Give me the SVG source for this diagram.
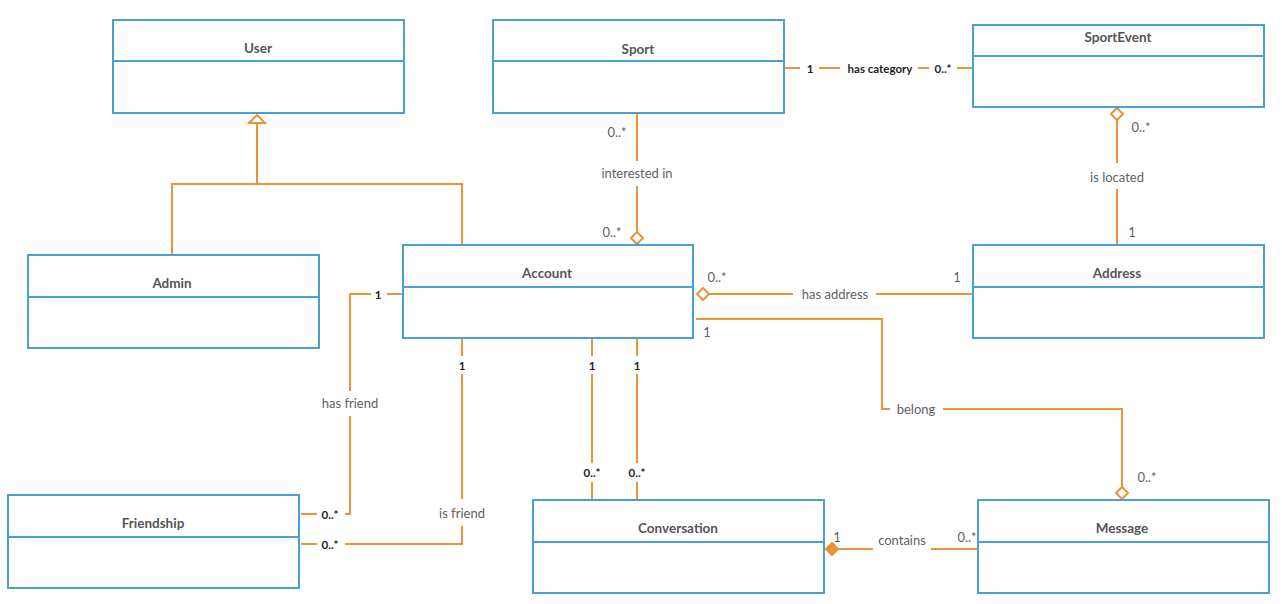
<svg xmlns="http://www.w3.org/2000/svg" width="1282" height="604" viewBox="0 0 1282 604">
<style>
.box{fill:#fff;stroke:#4aa0d5;stroke-width:2}
.div{stroke:#4aa0d5;stroke-width:2}
.title{font-family:Lato,"Liberation Sans",sans-serif;font-size:13.5px;font-weight:bold;fill:#555555;text-anchor:middle;dominant-baseline:central}
.ln{fill:none;stroke:#ec9339;stroke-width:2}
.hd{fill:#fff;stroke:#ec9339;stroke-width:2}
.fd{fill:#ec9339;stroke:#ec9339;stroke-width:2}
.g{font-family:Lato,"Liberation Sans",sans-serif;font-size:13px;fill:#5f5f5f;text-anchor:middle;dominant-baseline:central}
.b{font-family:Lato,"Liberation Sans",sans-serif;font-size:11.5px;font-weight:bold;fill:#1e1e1e;text-anchor:middle;dominant-baseline:central}
</style>
<rect width="1282" height="604" fill="#fff"/>
<g id="connectors">
<!-- generalization -->
<polyline class="ln" points="172,255 172,184 462,184 462,245"/>
<line class="ln" x1="257" y1="184" x2="257" y2="123"/>
<polygon class="hd" points="257,115 249,123 265,123"/>
<!-- has category -->
<line class="ln" x1="784" y1="68" x2="800" y2="68"/>
<line class="ln" x1="819" y1="68" x2="840" y2="68"/>
<line class="ln" x1="918" y1="68" x2="929" y2="68"/>
<line class="ln" x1="957" y1="68" x2="973" y2="68"/>
<text class="b" x="810" y="68">1</text>
<text class="b" x="880" y="68">has category</text>
<text class="b" x="943" y="68">0..*</text>
<!-- interested in -->
<line class="ln" x1="637" y1="113" x2="637" y2="161"/>
<line class="ln" x1="637" y1="186" x2="637" y2="232"/>
<polygon class="hd" points="637,232 643,238 637,244 631,238"/>
<text class="g" x="617" y="132">0..*</text>
<text class="g" x="637" y="173">interested in</text>
<text class="g" x="612" y="232">0..*</text>
<!-- is located -->
<polygon class="hd" points="1117,108 1123,114 1117,120 1111,114"/>
<line class="ln" x1="1117" y1="120" x2="1117" y2="163"/>
<line class="ln" x1="1117" y1="189" x2="1117" y2="245"/>
<text class="g" x="1141" y="127">0..*</text>
<text class="g" x="1117" y="177">is located</text>
<text class="g" x="1132" y="232">1</text>
<!-- has address -->
<polygon class="hd" points="697,294 703,288 709,294 703,300"/>
<line class="ln" x1="709" y1="294" x2="793" y2="294"/>
<line class="ln" x1="876" y1="294" x2="973" y2="294"/>
<text class="g" x="717" y="277">0..*</text>
<text class="g" x="835" y="294">has address</text>
<text class="g" x="957" y="277">1</text>
<!-- belong -->
<polyline class="ln" points="696,319 882,319 882,409 890,409"/>
<polyline class="ln" points="943,409 1122,409 1122,487"/>
<polygon class="hd" points="1122,487 1128,493 1122,499 1116,493"/>
<text class="g" x="707" y="332">1</text>
<text class="g" x="916" y="409">belong</text>
<text class="g" x="1147" y="477">0..*</text>
<!-- has friend -->
<line class="ln" x1="403" y1="294" x2="387" y2="294"/>
<polyline class="ln" points="371,294 350,294 350,391"/>
<polyline class="ln" points="350,416 350,514 345,514"/>
<line class="ln" x1="317" y1="514" x2="301" y2="514"/>
<text class="b" x="378" y="294">1</text>
<text class="g" x="350" y="403">has friend</text>
<text class="b" x="330" y="514">0..*</text>
<!-- is friend -->
<line class="ln" x1="462" y1="339" x2="462" y2="356"/>
<line class="ln" x1="462" y1="374" x2="462" y2="499"/>
<polyline class="ln" points="462,526 462,544 345,544"/>
<line class="ln" x1="317" y1="544" x2="301" y2="544"/>
<text class="b" x="462" y="365">1</text>
<text class="g" x="462" y="513">is friend</text>
<text class="b" x="330" y="544">0..*</text>
<!-- account - conversation -->
<line class="ln" x1="592" y1="339" x2="592" y2="356"/>
<line class="ln" x1="592" y1="374" x2="592" y2="463"/>
<line class="ln" x1="592" y1="482" x2="592" y2="500"/>
<line class="ln" x1="637" y1="339" x2="637" y2="356"/>
<line class="ln" x1="637" y1="374" x2="637" y2="463"/>
<line class="ln" x1="637" y1="482" x2="637" y2="500"/>
<text class="b" x="592" y="365">1</text>
<text class="b" x="637" y="365">1</text>
<text class="b" x="592" y="472">0..*</text>
<text class="b" x="637" y="472">0..*</text>
<!-- contains -->
<polygon class="fd" points="826,549 832,543 838,549 832,555"/>
<line class="ln" x1="838" y1="549" x2="873" y2="549"/>
<line class="ln" x1="931" y1="549" x2="978" y2="549"/>
<text class="g" x="837" y="537">1</text>
<text class="g" x="902" y="540">contains</text>
<text class="g" x="967" y="537">0..*</text>
</g>
<g id="User"><rect class="box" x="113" y="20" width="291" height="93"/><line class="div" x1="113" y1="61" x2="404" y2="61"/><text class="title" x="258" y="48">User</text></g>
<g id="Sport"><rect class="box" x="493" y="20" width="291" height="93"/><line class="div" x1="493" y1="61" x2="784" y2="61"/><text class="title" x="638" y="49">Sport</text></g>
<g id="SportEvent"><rect class="box" x="973" y="25" width="291" height="82"/><line class="div" x1="973" y1="56" x2="1264" y2="56"/><text class="title" x="1118" y="37">SportEvent</text></g>
<g id="Admin"><rect class="box" x="28" y="255" width="291" height="93"/><line class="div" x1="28" y1="297" x2="319" y2="297"/><text class="title" x="172" y="283">Admin</text></g>
<g id="Account"><rect class="box" x="403" y="245" width="290" height="93"/><line class="div" x1="403" y1="287" x2="693" y2="287"/><text class="title" x="547" y="273">Account</text></g>
<g id="Address"><rect class="box" x="973" y="245" width="291" height="93"/><line class="div" x1="973" y1="287" x2="1264" y2="287"/><text class="title" x="1117" y="273">Address</text></g>
<g id="Friendship"><rect class="box" x="8" y="495" width="291" height="93"/><line class="div" x1="8" y1="537" x2="299" y2="537"/><text class="title" x="153" y="523">Friendship</text></g>
<g id="Conversation"><rect class="box" x="533" y="500" width="291" height="93"/><line class="div" x1="533" y1="542" x2="824" y2="542"/><text class="title" x="678" y="528">Conversation</text></g>
<g id="Message"><rect class="box" x="978" y="500" width="291" height="93"/><line class="div" x1="978" y1="542" x2="1269" y2="542"/><text class="title" x="1122" y="528">Message</text></g>
</svg>
